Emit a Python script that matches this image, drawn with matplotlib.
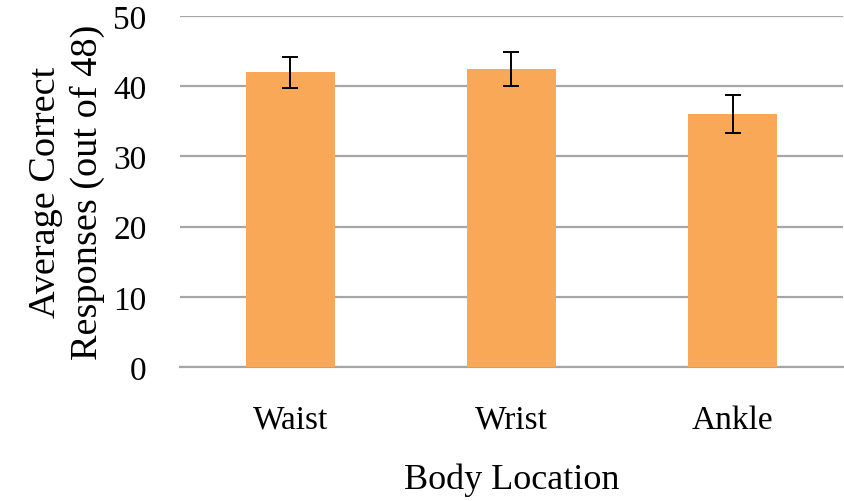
import matplotlib.pyplot as plt
import numpy as np

categories = ['Waist', 'Wrist', 'Ankle']
averages = [42.0, 42.5, 36.1]
errors = [2.2, 2.4, 2.7]

plt.rcParams['font.family'] = ['Liberation Serif', 'DejaVu Serif']

fig = plt.figure(figsize=(8.44, 5.02), dpi=100)
ax = fig.add_axes([0.213, 0.267, 0.786, 0.699])

x = np.arange(len(categories))
ax.bar(x, averages, width=0.4, color='#F9A857', zorder=3)
ax.errorbar(x, averages, yerr=errors, fmt='none', ecolor='black',
            elinewidth=1.4, capsize=5.5, capthick=1.4, zorder=4)

ax.set_xlim(-0.5, 2.5)
ax.set_ylim(0, 50)
ax.set_yticks(range(0, 51, 10))
ax.set_xticks(x)
ax.set_xticklabels(categories)
ax.grid(axis='y', color='#A6A6A6', linewidth=1.6, zorder=0)
ax.set_axisbelow(True)

for s in ['top', 'right', 'left']:
    ax.spines[s].set_visible(False)
ax.spines['bottom'].set_color('#A6A6A6')
ax.spines['bottom'].set_linewidth(1.6)
ax.tick_params(axis='both', length=0, labelsize=24)
ax.tick_params(axis='x', pad=27)
ax.tick_params(axis='y', pad=24)

ax.set_xlabel('Body Location', fontsize=26, labelpad=20)
ax.set_ylabel('Average Correct\nResponses (out of 48)', fontsize=27.5, labelpad=6,
              linespacing=1.25)

fig.savefig('out.png', dpi=100)
